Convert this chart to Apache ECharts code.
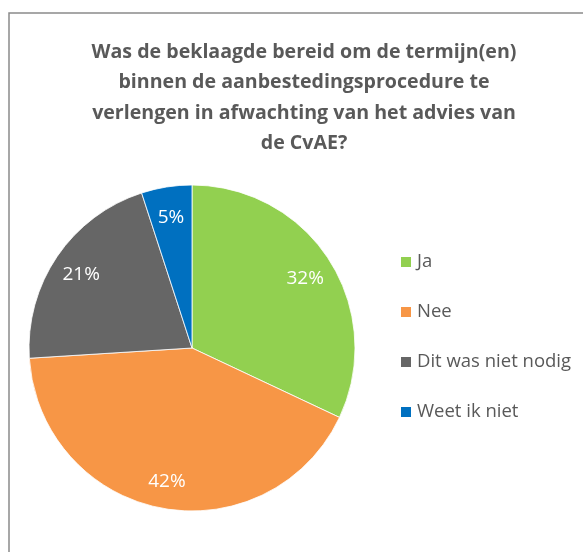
<!DOCTYPE html>
<html>
<head>
<meta charset="utf-8">
<script src="https://cdn.jsdelivr.net/npm/echarts@6/dist/echarts.min.js"></script>
<style>html,body{margin:0;padding:0;background:#fff;}#c{width:583px;height:552px;}</style>
</head>
<body>
<div id="c"></div>
<script>
const categories = ['Ja', 'Nee', 'Dit was niet nodig', 'Weet ik niet'];
const values = [32, 42, 21, 5];
const colors = ['#92D050', '#F79646', '#666666', '#0070C0'];
const titleText = 'Was de beklaagde bereid om de termijn(en)\nbinnen de aanbestedingsprocedure te\nverlengen in afwachting van het advies van\nde CvAE?';

const FONT = '"Open Sans", "Noto Sans", sans-serif';
const pieData = categories.map((n, i) => ({ name: n, value: values[i], itemStyle: { color: colors[i] } }));
const labelData = categories.map((n, i) => ({ name: n, value: values[i] }));

const chart = echarts.init(document.getElementById('c'), null, { renderer: 'canvas' });
chart.setOption({
  animation: false,
  backgroundColor: '#fff',
  graphic: [{
    type: 'rect',
    shape: { x: 9, y: 13, width: 620, height: 600 },
    style: { fill: 'none', stroke: '#8a8a8a', lineWidth: 1.5 },
    silent: true, z: -1
  }],
  title: {
    text: titleText,
    left: 299, textAlign: 'center',
    top: 32,
    textStyle: { fontFamily: FONT, fontWeight: 'bold', fontSize: 19.6, color: '#595959', lineHeight: 30.5 }
  },
  legend: {
    orient: 'vertical',
    left: 394, top: 246,
    itemWidth: 12, itemHeight: 12, itemGap: 28,
    icon: 'rect',
    data: categories,
    textStyle: { fontFamily: FONT, fontSize: 18.5, color: '#595959', lineHeight: 22 }
  },
  series: [{
    type: 'pie',
    center: [192, 348],
    radius: [0, 163],
    startAngle: 90,
    clockwise: true,
    data: pieData,
    label: { show: false },
    labelLine: { show: false },
    itemStyle: { borderColor: '#ffffff', borderWidth: 0.8 },
    emphasis: { disabled: true }
  }, {
    type: 'pie',
    center: [192, 348],
    radius: [99, 163],
    startAngle: 90,
    clockwise: true,
    silent: true,
    legendHoverLink: false,
    data: labelData,
    itemStyle: { color: 'rgba(0,0,0,0)' },
    label: { show: true, position: 'inside', formatter: '{c}%', color: '#ffffff', fontFamily: FONT, fontSize: 19, offset: [0, 2] },
    labelLine: { show: false },
    emphasis: { disabled: true }
  }]
});
</script>
</body>
</html>
